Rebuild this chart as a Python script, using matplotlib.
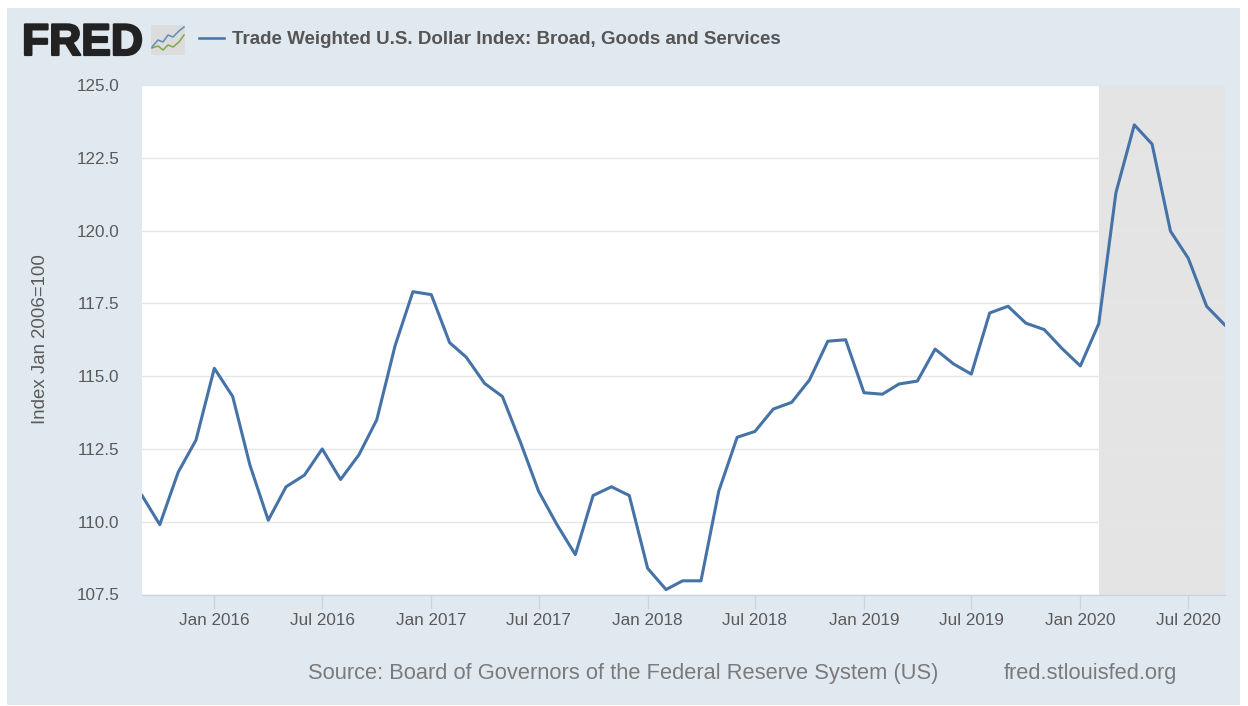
import matplotlib
matplotlib.use("Agg")
import matplotlib.pyplot as plt
import matplotlib.patheffects as pe
from matplotlib.patches import Rectangle
from matplotlib.lines import Line2D
import pandas as pd

plt.rcParams['font.family'] = ['Liberation Sans', 'DejaVu Sans']

W, H = 1248, 706
dates = pd.date_range("2015-09-01", "2020-09-01", freq="MS")
values = [110.9, 109.9, 111.7, 112.8,
          115.27, 114.3, 111.95, 110.05, 111.2, 111.6, 112.5, 111.45, 112.3, 113.5, 116.05, 117.9,
          117.8, 116.15, 115.65, 114.75, 114.3, 112.7, 111.05, 109.9, 108.87, 110.9, 111.2, 110.9,
          108.4, 107.67, 107.97, 107.97, 111.05, 112.9, 113.1, 113.87, 114.1, 114.87, 116.2, 116.25,
          114.43, 114.38, 114.73, 114.83, 115.93, 115.42, 115.07, 117.17, 117.4, 116.82, 116.6, 115.95,
          115.35, 116.8, 121.3, 123.63, 122.97, 119.98, 119.05, 117.4, 116.75]
yticks = [107.5, 110.0, 112.5, 115.0, 117.5, 120.0, 122.5, 125.0]
xticks = pd.date_range("2016-01-01", "2020-07-01", freq="6MS")
recession = ("2020-02-01", "2020-09-01")
title = "Trade Weighted U.S. Dollar Index: Broad, Goods and Services"
source = "Source: Board of Governors of the Federal Reserve System (US)"
site = "fred.stlouisfed.org"
ylabel = "Index Jan 2006=100"

BG = "#e1e9f0"
LINE = "#4572a7"
TXT = "#5a5a5a"

fig = plt.figure(figsize=(W / 100, H / 100), dpi=100, facecolor="white")
def fx(px): return px / W
def fy(py): return 1 - py / H

fig.add_artist(Rectangle((fx(7), fy(705)), (1240 - 7) / W, (705 - 8) / H,
                         transform=fig.transFigure, facecolor=BG, edgecolor="none", zorder=-5))

L, R, T, B = 142, 1225, 85, 594.5
ax = fig.add_axes([fx(L), fy(B), (R - L) / W, (B - T) / H])
ax.set_facecolor("white")
ax.set_xlim(dates[0], dates[-1])
ax.set_ylim(107.5, 125)
ax.axvspan(pd.Timestamp(recession[0]), pd.Timestamp(recession[1]), color="#e4e4e4", lw=0, zorder=1)
ax.plot(dates, values, color=LINE, lw=2.2, zorder=3, solid_joinstyle="round", clip_on=True)

ax.set_yticks(yticks)
ax.set_yticklabels([f"{v:.1f}" for v in yticks], fontsize=12.3, color=TXT)
ax.set_xticks(xticks)
ax.set_xticklabels([d.strftime("%b %Y") for d in xticks], fontsize=12.3, color=TXT)
ax.grid(axis="y", color="#e6e6e6", lw=1, zorder=2)
ax.tick_params(axis="y", length=0, pad=16.2)
ax.tick_params(axis="x", length=10, width=1, color="#c8d4e6", pad=3.5)
for s in ("top", "right", "left"):
    ax.spines[s].set_visible(False)
ax.spines["bottom"].set_color("#c8d4e6")
ax.spines["bottom"].set_linewidth(1)

fig.text(fx(41), fy(339), ylabel, rotation=90, fontsize=13.4, color=TXT, ha="center", va="center")
fig.text(fx(623.5), fy(673.5), source, fontsize=15.75, color="#7a7a7a", ha="center", va="center")
fig.text(fx(1090.5), fy(673.5), site, fontsize=15.75, color="#7a7a7a", ha="center", va="center")

# header
fig.text(fx(22), fy(55), "FRED", fontsize=32, fontweight="bold", color="#222222", ha="left", va="baseline",
         path_effects=[pe.withStroke(linewidth=1.6, foreground="#222222")])
fig.add_artist(Rectangle((fx(151), fy(55)), 34 / W, 30 / H, transform=fig.transFigure,
                         facecolor="#dcdcdc", edgecolor="none"))
fig.add_artist(Line2D([fx(152), fx(158), fx(163), fx(168), fx(173), fx(179), fx(184)],
                      [fy(47), fy(40), fy(42), fy(35), fy(37), fy(31), fy(27)],
                      transform=fig.transFigure, color="#5b8fb5", lw=1.1))
fig.add_artist(Line2D([fx(152), fx(158), fx(163), fx(168), fx(173), fx(179), fx(184)],
                      [fy(48), fy(46), fy(50), fy(45), fy(47), fy(42), fy(35)],
                      transform=fig.transFigure, color="#7fa84a", lw=1.1))
fig.add_artist(Line2D([fx(199), fx(224)], [fy(37.5), fy(37.5)], transform=fig.transFigure, color=LINE, lw=1.8))
fig.text(fx(232), fy(39.5), title, fontsize=13.5, fontweight="bold", color="#555555", ha="left", va="center")

fig.savefig("out.png", dpi=100, facecolor="white")
